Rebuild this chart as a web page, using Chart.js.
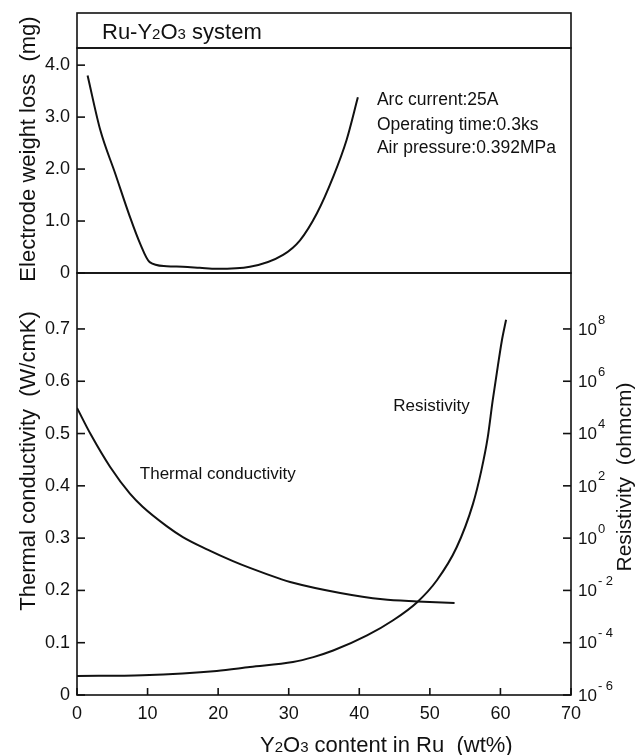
<!DOCTYPE html>
<html>
<head>
<meta charset="utf-8">
<script src="https://cdn.jsdelivr.net/npm/chart.js@4.4.1/dist/chart.umd.min.js"></script>
<style>
  html, body { margin: 0; padding: 0; background: #fff; }
  #wrap { position: relative; width: 637px; height: 755px; background: #fff; }
  #wrap canvas { position: absolute; left: 0; }
  #topChart { top: 0; }
  #bottomChart { top: 263px; }
</style>
</head>
<body>
<div id="wrap">
  <canvas id="topChart" width="637" height="280"></canvas>
  <canvas id="bottomChart" width="637" height="492"></canvas>
</div>
<script>
// Y2O3 content in Ru (wt%) vs electrode weight loss (mg)
const WEIGHT_X = [1.5, 3.3, 5.4, 7.5, 8.9, 10.3, 12.7, 15.0, 17.4, 19.8, 24.5, 29.2, 31.6, 34.0, 36.3, 38.2, 39.8];
const WEIGHT_LOSS = [3.8, 2.75, 1.92, 1.08, 0.58, 0.21, 0.13, 0.12, 0.10, 0.08, 0.12, 0.35, 0.63, 1.15, 1.85, 2.56, 3.38];

// thermal conductivity (W/cmK)
const THERMAL_X = [0, 2.0, 4.7, 7.5, 9.3, 12.7, 15.0, 18.5, 22.1, 24.5, 28.8, 30.2, 37.3, 43.3, 48.2, 53.5];
const THERMAL = [0.549, 0.497, 0.436, 0.385, 0.360, 0.323, 0.302, 0.278, 0.256, 0.243, 0.222, 0.216, 0.195, 0.183, 0.179, 0.176];

// resistivity, read as log10(ohmcm)
const RESIST_X = [0, 9.3, 19.8, 24.5, 30.6, 33.5, 36.3, 41.1, 44.8, 48.2, 51.0, 53.8, 56.1, 57.3, 58.2, 58.9, 59.6, 60.2, 60.8];
const RESIST_LOG = [-5.27, -5.24, -5.08, -4.93, -4.74, -4.55, -4.30, -3.72, -3.14, -2.45, -1.61, -0.35, 1.3, 2.59, 3.85, 5.26, 6.52, 7.55, 8.35];

const X_TICKS = [0, 10, 20, 30, 40, 50, 60, 70];
const WEIGHT_TICKS = [0, 1, 2, 3, 4];
const WEIGHT_TICK_LABELS = ['0', '1.0', '2.0', '3.0', '4.0'];
const THERMAL_TICKS = [0, 0.1, 0.2, 0.3, 0.4, 0.5, 0.6, 0.7];
const THERMAL_TICK_LABELS = ['0', '0.1', '0.2', '0.3', '0.4', '0.5', '0.6', '0.7'];
const RESIST_TICK_EXP = [-6, -4, -2, 0, 2, 4, 6, 8];

const FONT = '"Liberation Sans", Arial, sans-serif';
const INK = '#111';
const BOTTOM_TOP = 263;

Chart.defaults.font.family = FONT;
Chart.defaults.color = INK;

function toPoints(xs, ys) {
  return xs.map(function (x, i) {
    return { x: x, y: ys[i] };
  });
}

function line(ctx, x1, y1, x2, y2) {
  ctx.beginPath();
  ctx.moveTo(x1, y1);
  ctx.lineTo(x2, y2);
  ctx.stroke();
}

function rotatedText(ctx, text, x, y, size) {
  ctx.save();
  ctx.translate(x, y);
  ctx.rotate(-Math.PI / 2);
  ctx.font = size + 'px ' + FONT;
  ctx.textAlign = 'center';
  ctx.textBaseline = 'middle';
  ctx.fillText(text, 0, 0);
  ctx.restore();
}

// draws text pieces on one baseline, e.g. subscript digits in a smaller size
function partsText(ctx, parts, x, baseline) {
  ctx.textAlign = 'left';
  ctx.textBaseline = 'alphabetic';
  parts.forEach(function (p) {
    ctx.font = p[1] + 'px ' + FONT;
    ctx.fillText(p[0], x, baseline);
    x += ctx.measureText(p[0]).width;
  });
}

// keep the plot area exactly where the frame is, no room for label overflow
function noVerticalPad(s) {
  s.paddingTop = 0;
  s.paddingBottom = 0;
}

const topFrame = {
  id: 'topFrame',
  afterDraw: function (chart) {
    const ctx = chart.ctx;
    const a = chart.chartArea;
    const y = chart.scales.y;
    const x = chart.scales.x;
    ctx.save();
    ctx.strokeStyle = INK;
    ctx.fillStyle = INK;
    ctx.lineWidth = 1.6;
    ctx.strokeRect(a.left, a.top, a.right - a.left, a.bottom - a.top);
    ctx.strokeRect(a.left, 13, a.right - a.left, a.top - 13);

    WEIGHT_TICKS.forEach(function (v) {
      const py = y.getPixelForValue(v);
      line(ctx, a.left, py, a.left + 8, py);
    });

    partsText(ctx, [['Ru-Y', 22], ['2', 15], ['O', 22], ['3', 15], [' system', 22]], 102, 39);

    ctx.font = '17.5px ' + FONT;
    ctx.textAlign = 'left';
    ctx.textBaseline = 'middle';
    ctx.fillText('Arc current:25A', x.getPixelForValue(42.5), y.getPixelForValue(3.33));
    ctx.fillText('Operating time:0.3ks', x.getPixelForValue(42.5), y.getPixelForValue(2.85));
    ctx.fillText('Air pressure:0.392MPa', x.getPixelForValue(42.5), y.getPixelForValue(2.40));

    rotatedText(ctx, 'Electrode weight loss  (mg)', 29, 149, 22);
    ctx.restore();
  }
};

const bottomFrame = {
  id: 'bottomFrame',
  afterDraw: function (chart) {
    const ctx = chart.ctx;
    const a = chart.chartArea;
    const x = chart.scales.x;
    const yT = chart.scales.yT;
    const yR = chart.scales.yR;
    ctx.save();
    ctx.strokeStyle = INK;
    ctx.fillStyle = INK;
    ctx.lineWidth = 1.6;
    ctx.strokeRect(a.left, a.top, a.right - a.left, a.bottom - a.top);

    THERMAL_TICKS.forEach(function (v) {
      const py = yT.getPixelForValue(v);
      line(ctx, a.left, py, a.left + 8, py);
    });
    X_TICKS.forEach(function (v) {
      const px = x.getPixelForValue(v);
      line(ctx, px, a.bottom, px, a.bottom - 7);
    });
    RESIST_TICK_EXP.forEach(function (e) {
      const py = yR.getPixelForValue(Math.pow(10, e));
      line(ctx, a.right, py, a.right - 8, py);
      ctx.textAlign = 'left';
      ctx.textBaseline = 'middle';
      ctx.font = '17px ' + FONT;
      ctx.fillText('10', a.right + 7, py + 1);
      let ex = a.right + 7 + ctx.measureText('10').width + 1;
      ctx.font = '13px ' + FONT;
      if (e < 0) {
        ctx.fillText('-', ex, py - 9);
        ex += ctx.measureText('- ').width;
      }
      ctx.fillText(String(Math.abs(e)), ex, py - 9);
    });

    ctx.font = '17px ' + FONT;
    ctx.textAlign = 'left';
    ctx.textBaseline = 'middle';
    ctx.fillText('Thermal conductivity', x.getPixelForValue(8.9), yT.getPixelForValue(0.4226));
    ctx.fillText('Resistivity', x.getPixelForValue(44.8), yT.getPixelForValue(0.553));

    rotatedText(ctx, 'Thermal conductivity  (W/cmK)', 29, 461 - BOTTOM_TOP, 22);
    rotatedText(ctx, 'Resistivity  (ohmcm)', 625, 477 - BOTTOM_TOP, 21);
    partsText(ctx, [['Y', 22], ['2', 15], ['O', 22], ['3', 15], [' content in Ru  (wt%)', 22]], 260, 752 - BOTTOM_TOP);
    ctx.restore();
  }
};

const lineStyle = {
  borderColor: INK,
  borderWidth: 2,
  pointRadius: 0,
  fill: false,
  cubicInterpolationMode: 'monotone'
};

new Chart(document.getElementById('topChart'), {
  type: 'line',
  data: {
    datasets: [
      Object.assign({ label: 'Electrode weight loss', data: toPoints(WEIGHT_X, WEIGHT_LOSS) }, lineStyle)
    ]
  },
  options: {
    responsive: false,
    animation: false,
    layout: { padding: { top: 48, right: 66, bottom: 7, left: 0 } },
    plugins: { legend: { display: false }, tooltip: { enabled: false } },
    scales: {
      x: { type: 'linear', min: 0, max: 70, display: false },
      y: {
        min: 0,
        max: 4.33,
        afterBuildTicks: function (s) { s.ticks = WEIGHT_TICKS.map(function (v) { return { value: v }; }); },
        afterFit: function (s) { s.width = 77; noVerticalPad(s); },
        grid: { display: false, drawTicks: false },
        border: { display: false },
        ticks: {
          padding: 7,
          font: { size: 18 },
          callback: function (v, i) { return WEIGHT_TICK_LABELS[i]; }
        }
      }
    }
  },
  plugins: [topFrame]
});

new Chart(document.getElementById('bottomChart'), {
  type: 'line',
  data: {
    datasets: [
      Object.assign({ label: 'Thermal conductivity', data: toPoints(THERMAL_X, THERMAL), yAxisID: 'yT' }, lineStyle),
      Object.assign({
        label: 'Resistivity',
        data: toPoints(RESIST_X, RESIST_LOG.map(function (e) { return Math.pow(10, e); })),
        yAxisID: 'yR'
      }, lineStyle)
    ]
  },
  options: {
    responsive: false,
    animation: false,
    layout: { padding: { top: 10, right: 0, bottom: 0, left: 0 } },
    plugins: { legend: { display: false }, tooltip: { enabled: false } },
    scales: {
      x: {
        type: 'linear',
        min: 0,
        max: 70,
        afterBuildTicks: function (s) { s.ticks = X_TICKS.map(function (v) { return { value: v }; }); },
        afterFit: function (s) { s.height = 60; s.paddingLeft = 0; s.paddingRight = 0; },
        grid: { display: false, drawTicks: false },
        border: { display: false },
        ticks: { padding: 8, font: { size: 18 }, maxRotation: 0, callback: function (v) { return String(v); } }
      },
      yT: {
        position: 'left',
        min: 0,
        max: 0.807,
        afterBuildTicks: function (s) { s.ticks = THERMAL_TICKS.map(function (v) { return { value: v }; }); },
        afterFit: function (s) { s.width = 77; noVerticalPad(s); },
        grid: { display: false, drawTicks: false },
        border: { display: false },
        ticks: {
          padding: 7,
          font: { size: 18 },
          callback: function (v, i) { return THERMAL_TICK_LABELS[i]; }
        }
      },
      yR: {
        type: 'logarithmic',
        position: 'right',
        min: 1e-6,
        max: 1.38e10,
        afterBuildTicks: function (s) { s.ticks = RESIST_TICK_EXP.map(function (e) { return { value: Math.pow(10, e) }; }); },
        afterFit: function (s) { s.width = 66; noVerticalPad(s); },
        grid: { display: false, drawTicks: false },
        border: { display: false },
        ticks: { display: false }
      }
    }
  },
  plugins: [bottomFrame]
});
</script>
</body>
</html>
